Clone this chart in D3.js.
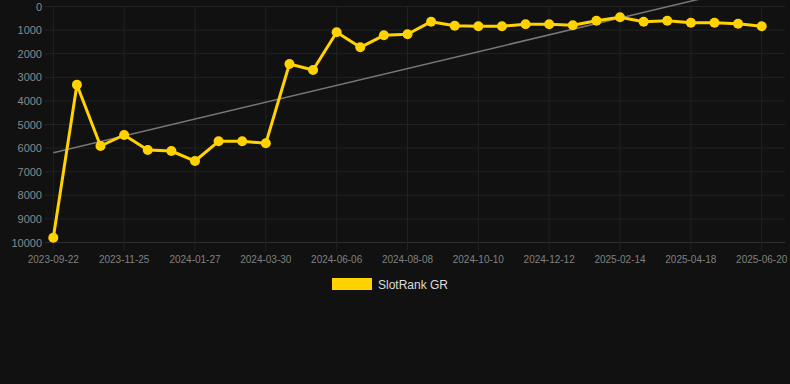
<!DOCTYPE html>
<html><head><meta charset="utf-8">
<script src="https://cdn.jsdelivr.net/npm/d3@7"></script>
<style>
html,body{margin:0;padding:0;background:#111111;}
svg{display:block;font-family:"Liberation Sans",Arial,sans-serif;}
</style></head>
<body><svg id="c" width="790" height="384"></svg>
<script>
const dates = ["2023-09-22","2023-10-13","2023-11-03","2023-11-25","2023-12-16","2024-01-06","2024-01-27","2024-02-17","2024-03-09","2024-03-30","2024-04-22","2024-05-15","2024-06-06","2024-06-27","2024-07-18","2024-08-08","2024-08-29","2024-09-19","2024-10-10","2024-10-31","2024-11-21","2024-12-12","2025-01-02","2025-01-23","2025-02-14","2025-03-07","2025-03-28","2025-04-18","2025-05-09","2025-05-30","2025-06-20"];
const rankValues = [9797,3314,5911,5445,6081,6123,6547,5712,5712,5797,2436,2691,1093,1729,1220,1178,644,814,839,839,754,754,797,602,458,644,602,686,686,729,839];
const yTicks = [0,1000,2000,3000,4000,5000,6000,7000,8000,9000,10000];
const xTickLabels = ["2023-09-22","2023-11-25","2024-01-27","2024-03-30","2024-06-06","2024-08-08","2024-10-10","2024-12-12","2025-02-14","2025-04-18","2025-06-20"];
const seriesName = "SlotRank GR";

(function () {
const svg = d3.select("#c");
const pL = 45, pR = 785, pT = 6.5, pB = 242.5;
const x = d3.scalePoint().domain(dates).range([53.3, 761.7]);
const y = d3.scaleLinear().domain([0, 10000]).range([pT, pB]);

// grid
const g = svg.append("g");
g.selectAll("line.h").data(yTicks).join("line")
  .attr("x1", pL).attr("x2", pR)
  .attr("y1", d => y(d)).attr("y2", d => y(d))
  .attr("stroke", d => d === 10000 ? "#2e2e2e" : "#222222").attr("stroke-width", 1);
g.selectAll("line.v").data(xTickLabels).join("line")
  .attr("x1", d => x(d)).attr("x2", d => x(d))
  .attr("y1", pT).attr("y2", pB + 8)
  .attr("stroke", "#222222").attr("stroke-width", 1);

// y axis labels
svg.append("g").selectAll("text").data(yTicks).join("text")
  .attr("x", 42).attr("y", d => y(d) + 4)
  .attr("text-anchor", "end").attr("font-size", 11).attr("fill", "#8a8a8a")
  .text(d => d);

// x axis labels
svg.append("g").selectAll("text").data(xTickLabels).join("text")
  .attr("x", d => x(d)).attr("y", 263)
  .attr("text-anchor", "middle").attr("font-size", 10).attr("fill", "#808080")
  .text(d => d);

// trend line (linear regression over index)
const n = rankValues.length;
const idx = d3.range(n);
const mx = d3.mean(idx), my = d3.mean(rankValues);
const slope = d3.sum(idx, i => (i - mx) * (rankValues[i] - my)) / d3.sum(idx, i => (i - mx) ** 2);
const icpt = my - slope * mx;
svg.append("defs").append("clipPath").attr("id", "clip")
  .append("rect").attr("x", pL).attr("y", 0).attr("width", pR - pL).attr("height", pB);
svg.append("line")
  .attr("x1", x(dates[0])).attr("y1", y(icpt))
  .attr("x2", x(dates[n - 1])).attr("y2", y(icpt + slope * (n - 1)))
  .attr("stroke", "#777777").attr("stroke-width", 1.5)
  .attr("clip-path", "url(#clip)");

// series line
const line = d3.line().x((d, i) => x(dates[i])).y(d => y(d));
svg.append("path").datum(rankValues)
  .attr("d", line).attr("fill", "none")
  .attr("stroke", "#FFD200").attr("stroke-width", 3).attr("stroke-linejoin", "round");
svg.append("g").selectAll("circle").data(rankValues).join("circle")
  .attr("cx", (d, i) => x(dates[i])).attr("cy", d => y(d)).attr("r", 5)
  .attr("fill", "#FFD200");

// legend
const lg = svg.append("g");
lg.append("rect").attr("x", 332).attr("y", 278).attr("width", 40).attr("height", 12).attr("fill", "#FFD200");
lg.append("text").attr("x", 378).attr("y", 289).attr("font-size", 12).attr("fill", "#dddddd").text(seriesName);
})();
</script></body></html>
